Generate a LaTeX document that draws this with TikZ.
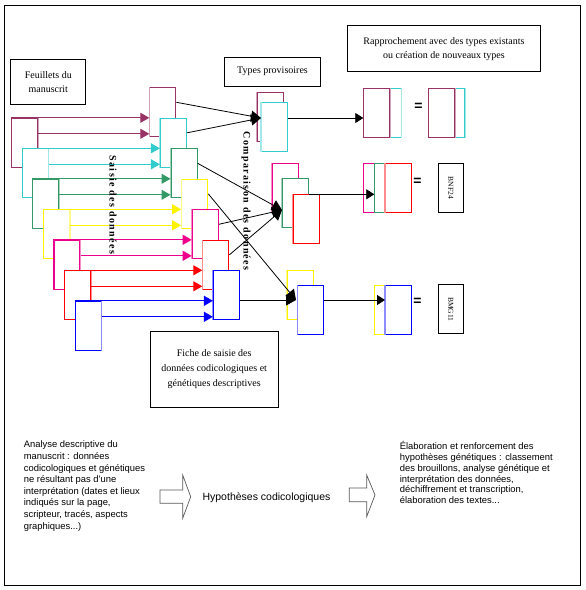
\documentclass[tikz,border=0pt]{standalone}
\usepackage{fontspec}
\setmainfont{Liberation Serif}
\setsansfont{Liberation Sans}
\newfontfamily\spacedbf[LetterSpace=14]{Liberation Serif}
\usetikzlibrary{arrows.meta}
\definecolor{plum}{HTML}{993366}
\definecolor{turq}{HTML}{33CCCC}
\definecolor{sea}{HTML}{339966}
\tikzset{
  page/.style={draw=#1, fill=white, minimum width=26pt, minimum height=49pt, inner sep=0pt, anchor=north west,
    append after command={(\tikzlastnode.north east) edge[draw=#1!45] (\tikzlastnode.south east)}},
  fiche/.style={draw=#1, fill=white, minimum width=26pt, minimum height=49pt, inner sep=0pt, anchor=north west,
    append after command={(\tikzlastnode.north west) edge[draw=#1!45] (\tikzlastnode.south west)}},
  titlebox/.style={draw, line width=1pt, font=\fontsize{10}{14}\selectfont, align=center, inner sep=0pt},
  vlabel/.style={font=\spacedbf\bfseries\fontsize{10}{12}\selectfont, rotate=-90, inner sep=0pt},
  typebox/.style={draw, minimum width=25pt, minimum height=49pt, inner sep=0pt},
  eqsign/.style={font=\sffamily\bfseries\fontsize{14}{14}\selectfont, inner sep=0pt},
  bigtip/.style={-{Triangle[length=10pt,width=11pt]}, black, line width=0.8pt},
  midtip/.style={-{Triangle[length=8pt,width=10pt]}, black, line width=0.8pt},
  notes/.style={font=\sffamily\fontsize{9.4}{#1}\selectfont, align=left, inner sep=0pt, anchor=north west},
  blockarrow/.style={draw=gray!70!black, fill=white, line width=0.7pt},
}
\begin{document}
\begin{tikzpicture}[x=1pt, y=-1pt, line width=1.15pt, >={Triangle[length=9pt,width=10pt]}]
\useasboundingbox (0,0) rectangle (586,590);

\pgfmathsetmacro{\dx}{10.6}
\pgfmathsetmacro{\dy}{30.5}
\pgfmathsetmacro{\fx}{149.3}
\pgfmathsetmacro{\fy}{87.3}

\draw[line width=1pt] (4,5) rectangle (580,585);

\node[titlebox, minimum width=75pt, minimum height=45pt] (feuillets) at (48.3,81.8) {Feuillets du\\manuscrit};
\node[titlebox, minimum width=96pt, minimum height=29pt] (provis) at (272.5,71.5) {Types provisoires};
\node[titlebox, minimum width=193pt, minimum height=46pt] (rappro) at (444,48.8) {Rapprochement avec des types existants\\ou création de nouveaux types};
\node[titlebox, minimum width=128pt, minimum height=76pt, font=\fontsize{10}{15}\selectfont] (saisiefiche) at (214.2,369.5) {Fiche de saisie des\\données codicologiques et\\génétiques descriptives};

\node[fiche=plum] (f1) at (\fx, \fy) {};
\node[fiche=turq] (f2) at (\fx+\dx, \fy+\dy) {};
\node[fiche=sea] (f3) at (\fx+2*\dx, \fy+2*\dy) {};
\node[fiche=yellow] (f4) at (\fx+3*\dx, \fy+3*\dy) {};
\node[fiche=magenta] (f5) at (\fx+4*\dx, \fy+4*\dy) {};
\node[fiche=red] (f6) at (\fx+5*\dx, \fy+5*\dy) {};
\node[fiche=blue] (f7) at (\fx+6*\dx, \fy+6*\dy) {};

\node[page=plum] (s1) at (11, \fy+\dy) {};
\draw[->, plum] (s1.north west) -- (s1.north west -| f1.west);
\draw[->, plum] ([yshift=-16pt]s1.north east) -- ([yshift=-16pt]s1.north east -| f1.west);
\node[page=turq] (s2) at (11+\dx, \fy+2*\dy) {};
\draw[->, turq] (s2.north west) -- (s2.north west -| f2.west);
\draw[->, turq] ([yshift=-16pt]s2.north east) -- ([yshift=-16pt]s2.north east -| f2.west);
\node[page=sea] (s3) at (11+2*\dx, \fy+3*\dy) {};
\draw[->, sea] (s3.north west) -- (s3.north west -| f3.west);
\draw[->, sea] ([yshift=-16pt]s3.north east) -- ([yshift=-16pt]s3.north east -| f3.west);
\node[page=yellow] (s4) at (11+3*\dx, \fy+4*\dy) {};
\draw[->, yellow] (s4.north west) -- (s4.north west -| f4.west);
\draw[->, yellow] ([yshift=-16pt]s4.north east) -- ([yshift=-16pt]s4.north east -| f4.west);
\node[page=magenta] (s5) at (11+4*\dx, \fy+5*\dy) {};
\draw[->, magenta] (s5.north west) -- (s5.north west -| f5.west);
\draw[->, magenta] ([yshift=-16pt]s5.north east) -- ([yshift=-16pt]s5.north east -| f5.west);
\node[page=red] (s6) at (11+5*\dx, \fy+6*\dy) {};
\draw[->, red] (s6.north west) -- (s6.north west -| f6.west);
\draw[->, red] ([yshift=-16pt]s6.north east) -- ([yshift=-16pt]s6.north east -| f6.west);
\node[page=blue] (s7) at (11+6*\dx, \fy+7*\dy) {};
\draw[->, blue] (s7.north west) -- (s7.north west -| f7.west);
\draw[->, blue] ([yshift=-16pt]s7.north east) -- ([yshift=-16pt]s7.north east -| f7.west);

\node[vlabel] (saisie) at (113,205) {Saisie des données};

\node[fiche=plum] (ta1) at (256.7,92.3) {};
\node[fiche=turq] (ta2) at (261,102.3) {};
\node[fiche=magenta] (tb1) at (271.7,163.3) {};
\node[fiche=sea] (tb2) at (281.7,178.3) {};
\node[fiche=red] (tb3) at (292.7,194.3) {};
\node[fiche=yellow] (tc1) at (286.7,270) {};
\node[fiche=blue] (tc2) at (297.3,285) {};

\coordinate (ina) at (261,118);
\coordinate (inb) at (282,210);
\coordinate (inc) at (296,300);

\draw[bigtip] ([yshift=-15pt]f1.north east) -- (ina);
\draw[bigtip] ([yshift=-15pt]f2.north east) -- (ina);
\draw[bigtip] ([yshift=-15pt]f3.north east) -- (inb);
\draw[bigtip] ([yshift=-15pt]f5.north east) -- (inb);
\draw[bigtip] ([yshift=-15pt]f6.north east) -- (inb);
\draw[bigtip] ([yshift=-15pt]f4.north east) -- (inc);
\draw[bigtip] (f7.east |- inc) -- (inc);

\node[vlabel] (compar) at (246,201) {Comparaison des données};

\node[page=turq] (ra2) at (374.7,87.7) {};
\node[page=plum] (ra1) at (363.3,87.7) {};
\node[page=turq] (ea2) at (438.3,87.7) {};
\node[page=plum] (ea1) at (428.3,87.7) {};
\node[page=magenta] (rb1) at (363.3,163.3) {};
\node[page=sea] (rb2) at (374.3,163.3) {};
\node[fiche=red] (rb3) at (385,163.3) {};
\node[page=yellow] (rc1) at (374.3,285) {};
\node[fiche=blue] (rc2) at (385,285) {};

\draw[midtip] (ta2.east |- ina) -- (ra1.west |- ina);
\draw[midtip] (tb2.east |- tb3.north) -- (rb2.west |- tb3.north);
\draw[midtip] (tc2.east |- inc) -- (rc2.west |- inc);

\node[eqsign] (eqa) at (418.5,106.5) {=};
\node[eqsign] (eqb) at (417.5,181.7) {=};
\node[eqsign] (eqc) at (417.5,302) {=};

\node[typebox] (bnf) at (450.8,187.8) {};
\node[rotate=-90, font=\fontsize{7.5}{8}\selectfont] at (bnf) {BNF24};
\node[typebox] (bmg) at (450.8,309.2) {};
\node[rotate=-90, font=\fontsize{7.5}{8}\selectfont] at (bmg) {BMG11};

\node[notes=11.6pt] (analyse) at (23.3,440.6) {Analyse descriptive du\\manuscrit : données\\codicologiques et génétiques\\ne résultant pas d'une\\interprétation (dates et lieux\\indiqués sur la page,\\scripteur, tracés, aspects\\graphiques...)};
\node[font=\sffamily\fontsize{10.5}{12}\selectfont, anchor=west, inner sep=0pt] (hypo) at (202,498) {Hypothèses codicologiques};
\node[notes=10.9pt] (elabo) at (399.3,440.6) {Élaboration et renforcement des\\hypothèses génétiques : classement\\des brouillons, analyse génétique et\\interprétation des données,\\déchiffrement et transcription,\\élaboration des textes...};

\draw[blockarrow] (160,490) -- (182.7,490) -- (182.7,475) -- (190.7,496.7) -- (182.7,518.3) -- (182.7,503.3) -- (160,503.3) -- cycle;
\draw[blockarrow] (349.3,488) -- (366.7,488) -- (366.7,475) -- (375,495) -- (366.7,516.7) -- (366.7,501.7) -- (349.3,501.7) -- cycle;
\end{tikzpicture}
\end{document}
